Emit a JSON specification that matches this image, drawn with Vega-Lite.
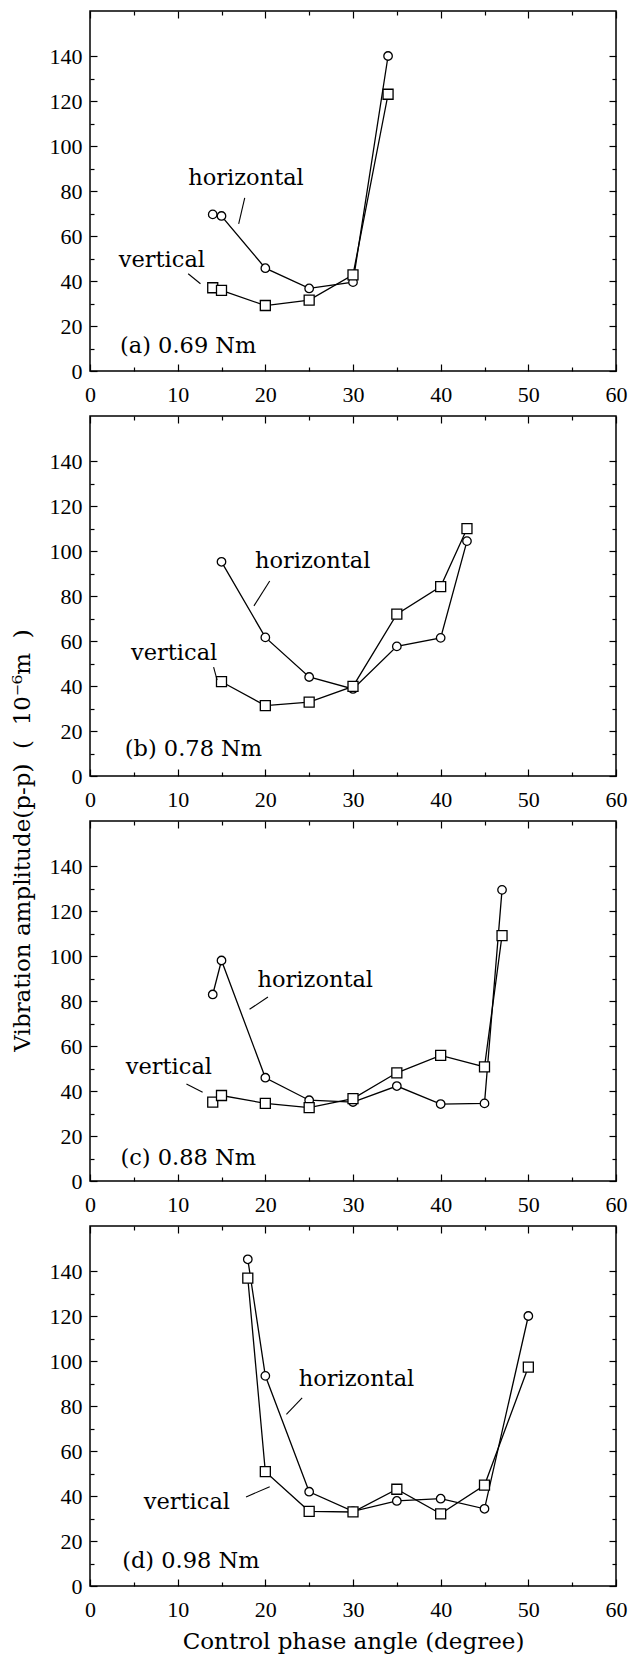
{
  "$schema": "https://vega.github.io/schema/vega-lite/v6.json",
  "padding": {"left": 10, "top": 9, "right": 5, "bottom": 5},
  "background": "white",
  "datasets": {
    "pts": [
      {"panel": "a", "series": "horizontal", "angle": 14, "amp": 69.6},
      {"panel": "a", "series": "horizontal", "angle": 15, "amp": 68.9},
      {"panel": "a", "series": "horizontal", "angle": 20, "amp": 45.7},
      {"panel": "a", "series": "horizontal", "angle": 25, "amp": 36.7},
      {"panel": "a", "series": "horizontal", "angle": 30, "amp": 39.5},
      {"panel": "a", "series": "horizontal", "angle": 34, "amp": 140},
      {"panel": "a", "series": "vertical", "angle": 14, "amp": 37},
      {"panel": "a", "series": "vertical", "angle": 15, "amp": 35.8},
      {"panel": "a", "series": "vertical", "angle": 20, "amp": 29.1},
      {"panel": "a", "series": "vertical", "angle": 25, "amp": 31.5},
      {"panel": "a", "series": "vertical", "angle": 30, "amp": 42.7},
      {"panel": "a", "series": "vertical", "angle": 34, "amp": 123},
      {"panel": "b", "series": "horizontal", "angle": 15, "amp": 95.2},
      {"panel": "b", "series": "horizontal", "angle": 20, "amp": 61.6},
      {"panel": "b", "series": "horizontal", "angle": 25, "amp": 44},
      {"panel": "b", "series": "horizontal", "angle": 30, "amp": 38.7},
      {"panel": "b", "series": "horizontal", "angle": 35, "amp": 57.6},
      {"panel": "b", "series": "horizontal", "angle": 40, "amp": 61.4},
      {"panel": "b", "series": "horizontal", "angle": 43, "amp": 104.4},
      {"panel": "b", "series": "vertical", "angle": 15, "amp": 41.9},
      {"panel": "b", "series": "vertical", "angle": 20, "amp": 31.3},
      {"panel": "b", "series": "vertical", "angle": 25, "amp": 32.8},
      {"panel": "b", "series": "vertical", "angle": 30, "amp": 39.8},
      {"panel": "b", "series": "vertical", "angle": 35, "amp": 71.9},
      {"panel": "b", "series": "vertical", "angle": 40, "amp": 84.2},
      {"panel": "b", "series": "vertical", "angle": 43, "amp": 109.9},
      {"panel": "c", "series": "horizontal", "angle": 14, "amp": 82.9},
      {"panel": "c", "series": "horizontal", "angle": 15, "amp": 98},
      {"panel": "c", "series": "horizontal", "angle": 20, "amp": 45.9},
      {"panel": "c", "series": "horizontal", "angle": 25, "amp": 35.9},
      {"panel": "c", "series": "horizontal", "angle": 30, "amp": 35.1},
      {"panel": "c", "series": "horizontal", "angle": 35, "amp": 42.2},
      {"panel": "c", "series": "horizontal", "angle": 40, "amp": 34.2},
      {"panel": "c", "series": "horizontal", "angle": 45, "amp": 34.5},
      {"panel": "c", "series": "horizontal", "angle": 47, "amp": 129.4},
      {"panel": "c", "series": "vertical", "angle": 14, "amp": 35.1},
      {"panel": "c", "series": "vertical", "angle": 15, "amp": 38},
      {"panel": "c", "series": "vertical", "angle": 20, "amp": 34.5},
      {"panel": "c", "series": "vertical", "angle": 25, "amp": 32.6},
      {"panel": "c", "series": "vertical", "angle": 30, "amp": 36.6},
      {"panel": "c", "series": "vertical", "angle": 35, "amp": 48.1},
      {"panel": "c", "series": "vertical", "angle": 40, "amp": 55.8},
      {"panel": "c", "series": "vertical", "angle": 45, "amp": 50.7},
      {"panel": "c", "series": "vertical", "angle": 47, "amp": 109.1},
      {"panel": "d", "series": "horizontal", "angle": 18, "amp": 145.2},
      {"panel": "d", "series": "horizontal", "angle": 20, "amp": 93.4},
      {"panel": "d", "series": "horizontal", "angle": 25, "amp": 41.9},
      {"panel": "d", "series": "horizontal", "angle": 30, "amp": 33.2},
      {"panel": "d", "series": "horizontal", "angle": 35, "amp": 37.8},
      {"panel": "d", "series": "horizontal", "angle": 40, "amp": 38.8},
      {"panel": "d", "series": "horizontal", "angle": 45, "amp": 34.3},
      {"panel": "d", "series": "horizontal", "angle": 50, "amp": 120},
      {"panel": "d", "series": "vertical", "angle": 18, "amp": 136.8},
      {"panel": "d", "series": "vertical", "angle": 20, "amp": 50.8},
      {"panel": "d", "series": "vertical", "angle": 25, "amp": 33.2},
      {"panel": "d", "series": "vertical", "angle": 30, "amp": 32.9},
      {"panel": "d", "series": "vertical", "angle": 35, "amp": 43},
      {"panel": "d", "series": "vertical", "angle": 40, "amp": 32.1},
      {"panel": "d", "series": "vertical", "angle": 45, "amp": 44.8},
      {"panel": "d", "series": "vertical", "angle": 50, "amp": 97.3}
    ],
    "labels": [
      {"panel": "a", "text": "horizontal", "x": 17.8, "y": 86},
      {"panel": "a", "text": "vertical", "x": 8.2, "y": 49.2},
      {"panel": "a", "text": "(a) 0.69 Nm", "x": 11.2, "y": 11.1},
      {"panel": "b", "text": "horizontal", "x": 25.4, "y": 95.7},
      {"panel": "b", "text": "vertical", "x": 9.6, "y": 54.7},
      {"panel": "b", "text": "(b) 0.78 Nm", "x": 11.8, "y": 12.2},
      {"panel": "c", "text": "horizontal", "x": 25.7, "y": 89.3},
      {"panel": "c", "text": "vertical", "x": 9.0, "y": 50.5},
      {"panel": "c", "text": "(c) 0.88 Nm", "x": 11.2, "y": 10.2},
      {"panel": "d", "text": "horizontal", "x": 30.4, "y": 92},
      {"panel": "d", "text": "vertical", "x": 11.05, "y": 37.4},
      {"panel": "d", "text": "(d) 0.98 Nm", "x": 11.5, "y": 11.2}
    ],
    "leaders": [
      {"panel": "a", "x": 17.65, "y": 76.9, "x2": 16.96, "y2": 65.4},
      {"panel": "a", "x": 11.2, "y": 43.2, "x2": 12.6, "y2": 38.8},
      {"panel": "b", "x": 20.5, "y": 86.7, "x2": 18.7, "y2": 75.6},
      {"panel": "b", "x": 14.1, "y": 48.4, "x2": 14.5, "y2": 42.6},
      {"panel": "c", "x": 20.3, "y": 81.8, "x2": 18.2, "y2": 76.3},
      {"panel": "c", "x": 11.0, "y": 43.1, "x2": 12.85, "y2": 39.4},
      {"panel": "d", "x": 24.2, "y": 83.6, "x2": 22.4, "y2": 76.3},
      {"panel": "d", "x": 17.8, "y": 39.6, "x2": 20.5, "y2": 44.1}
    ]
  },
  "vconcat": [
    {
      "width": 526, "height": 360,
      "layer": [
        {"data": {"name": "pts"}, "transform": [{"filter": "datum.panel === 'a'"}],
         "mark": {"type": "line", "color": "black", "strokeWidth": 1.3},
         "encoding": {
           "x": {"field": "angle", "type": "quantitative", "scale": {"domain": [0, 60]}, "axis": {"orient": "bottom", "values": [0,5,10,15,20,25,30,35,40,45,50,55,60], "labelExpr": "datum.value % 10 === 0 ? datum.label : ''", "tickSize": {"condition": {"test": "datum.value % 10 === 0", "value": -7}, "value": -4}, "labelPadding": 20, "title": null}},
           "y": {"field": "amp", "type": "quantitative", "scale": {"domain": [0, 150]}, "axis": {"orient": "left", "values": [0,10,20,30,40,50,60,70,80,90,100,110,120,130,140], "labelExpr": "datum.value % 20 === 0 ? datum.label : ''", "tickSize": {"condition": {"test": "datum.value % 20 === 0", "value": -7}, "value": -4}, "labelPadding": 15, "title": null}},
           "detail": {"field": "series"}
         }},
        {"data": {"name": "pts"}, "transform": [{"filter": "datum.panel === 'a'"}],
         "mark": {"type": "point", "filled": true, "fill": "white", "stroke": "black", "strokeWidth": 1.3, "opacity": 1},
         "encoding": {
           "x": {"field": "angle", "type": "quantitative", "axis": {"orient": "top", "values": [0,5,10,15,20,25,30,35,40,45,50,55,60], "labels": false, "tickSize": {"condition": {"test": "datum.value % 10 === 0", "value": -7}, "value": -4}, "title": null}},
           "y": {"field": "amp", "type": "quantitative", "axis": {"orient": "right", "values": [0,10,20,30,40,50,60,70,80,90,100,110,120,130,140], "labels": false, "tickSize": {"condition": {"test": "datum.value % 20 === 0", "value": -7}, "value": -4}, "title": null}},
           "shape": {"field": "series", "scale": {"domain": ["horizontal", "vertical"], "range": ["circle", "square"]}, "legend": null},
           "size": {"field": "series", "scale": {"domain": ["horizontal", "vertical"], "range": [72, 100]}, "legend": null}
         }},
        {"data": {"name": "labels"}, "transform": [{"filter": "datum.panel === 'a'"}],
         "mark": {"type": "text", "font": "DejaVu Serif", "fontSize": 22.5, "color": "black", "align": "center", "baseline": "middle"},
         "encoding": {"x": {"field": "x", "type": "quantitative", "axis": null}, "y": {"field": "y", "type": "quantitative", "axis": null}, "text": {"field": "text"}}},
        {"data": {"name": "leaders"}, "transform": [{"filter": "datum.panel === 'a'"}],
         "mark": {"type": "rule", "color": "black", "strokeWidth": 1.1},
         "encoding": {"x": {"field": "x", "type": "quantitative", "axis": null}, "y": {"field": "y", "type": "quantitative", "axis": null}, "x2": {"field": "x2"}, "y2": {"field": "y2"}}}
      ],
      "resolve": {"axis": {"x": "independent", "y": "independent"}}
    },
    {
      "width": 526, "height": 360,
      "layer": [
        {"data": {"name": "pts"}, "transform": [{"filter": "datum.panel === 'b'"}],
         "mark": {"type": "line", "color": "black", "strokeWidth": 1.3},
         "encoding": {
           "x": {"field": "angle", "type": "quantitative", "scale": {"domain": [0, 60]}, "axis": {"orient": "bottom", "values": [0,5,10,15,20,25,30,35,40,45,50,55,60], "labelExpr": "datum.value % 10 === 0 ? datum.label : ''", "tickSize": {"condition": {"test": "datum.value % 10 === 0", "value": -7}, "value": -4}, "labelPadding": 20, "title": null}},
           "y": {"field": "amp", "type": "quantitative", "scale": {"domain": [0, 150]}, "axis": {"orient": "left", "values": [0,10,20,30,40,50,60,70,80,90,100,110,120,130,140], "labelExpr": "datum.value % 20 === 0 ? datum.label : ''", "tickSize": {"condition": {"test": "datum.value % 20 === 0", "value": -7}, "value": -4}, "labelPadding": 15, "title": "Vibration amplitude(p-p)\u00a0\u00a0(\u00a0\u00a010⁻⁶m\u00a0\u00a0)", "titleFontSize": 23, "titleX": -68, "titleY": 424, "titleAlign": "center", "titleBaseline": "middle", "titleAngle": 270}},
           "detail": {"field": "series"}
         }},
        {"data": {"name": "pts"}, "transform": [{"filter": "datum.panel === 'b'"}],
         "mark": {"type": "point", "filled": true, "fill": "white", "stroke": "black", "strokeWidth": 1.3, "opacity": 1},
         "encoding": {
           "x": {"field": "angle", "type": "quantitative", "axis": {"orient": "top", "values": [0,5,10,15,20,25,30,35,40,45,50,55,60], "labels": false, "tickSize": {"condition": {"test": "datum.value % 10 === 0", "value": -7}, "value": -4}, "title": null}},
           "y": {"field": "amp", "type": "quantitative", "axis": {"orient": "right", "values": [0,10,20,30,40,50,60,70,80,90,100,110,120,130,140], "labels": false, "tickSize": {"condition": {"test": "datum.value % 20 === 0", "value": -7}, "value": -4}, "title": null}},
           "shape": {"field": "series", "scale": {"domain": ["horizontal", "vertical"], "range": ["circle", "square"]}, "legend": null},
           "size": {"field": "series", "scale": {"domain": ["horizontal", "vertical"], "range": [72, 100]}, "legend": null}
         }},
        {"data": {"name": "labels"}, "transform": [{"filter": "datum.panel === 'b'"}],
         "mark": {"type": "text", "font": "DejaVu Serif", "fontSize": 22.5, "color": "black", "align": "center", "baseline": "middle"},
         "encoding": {"x": {"field": "x", "type": "quantitative", "axis": null}, "y": {"field": "y", "type": "quantitative", "axis": null}, "text": {"field": "text"}}},
        {"data": {"name": "leaders"}, "transform": [{"filter": "datum.panel === 'b'"}],
         "mark": {"type": "rule", "color": "black", "strokeWidth": 1.1},
         "encoding": {"x": {"field": "x", "type": "quantitative", "axis": null}, "y": {"field": "y", "type": "quantitative", "axis": null}, "x2": {"field": "x2"}, "y2": {"field": "y2"}}}
      ],
      "resolve": {"axis": {"x": "independent", "y": "independent"}}
    },
    {
      "width": 526, "height": 360,
      "layer": [
        {"data": {"name": "pts"}, "transform": [{"filter": "datum.panel === 'c'"}],
         "mark": {"type": "line", "color": "black", "strokeWidth": 1.3},
         "encoding": {
           "x": {"field": "angle", "type": "quantitative", "scale": {"domain": [0, 60]}, "axis": {"orient": "bottom", "values": [0,5,10,15,20,25,30,35,40,45,50,55,60], "labelExpr": "datum.value % 10 === 0 ? datum.label : ''", "tickSize": {"condition": {"test": "datum.value % 10 === 0", "value": -7}, "value": -4}, "labelPadding": 20, "title": null}},
           "y": {"field": "amp", "type": "quantitative", "scale": {"domain": [0, 150]}, "axis": {"orient": "left", "values": [0,10,20,30,40,50,60,70,80,90,100,110,120,130,140], "labelExpr": "datum.value % 20 === 0 ? datum.label : ''", "tickSize": {"condition": {"test": "datum.value % 20 === 0", "value": -7}, "value": -4}, "labelPadding": 15, "title": null}},
           "detail": {"field": "series"}
         }},
        {"data": {"name": "pts"}, "transform": [{"filter": "datum.panel === 'c'"}],
         "mark": {"type": "point", "filled": true, "fill": "white", "stroke": "black", "strokeWidth": 1.3, "opacity": 1},
         "encoding": {
           "x": {"field": "angle", "type": "quantitative", "axis": {"orient": "top", "values": [0,5,10,15,20,25,30,35,40,45,50,55,60], "labels": false, "tickSize": {"condition": {"test": "datum.value % 10 === 0", "value": -7}, "value": -4}, "title": null}},
           "y": {"field": "amp", "type": "quantitative", "axis": {"orient": "right", "values": [0,10,20,30,40,50,60,70,80,90,100,110,120,130,140], "labels": false, "tickSize": {"condition": {"test": "datum.value % 20 === 0", "value": -7}, "value": -4}, "title": null}},
           "shape": {"field": "series", "scale": {"domain": ["horizontal", "vertical"], "range": ["circle", "square"]}, "legend": null},
           "size": {"field": "series", "scale": {"domain": ["horizontal", "vertical"], "range": [72, 100]}, "legend": null}
         }},
        {"data": {"name": "labels"}, "transform": [{"filter": "datum.panel === 'c'"}],
         "mark": {"type": "text", "font": "DejaVu Serif", "fontSize": 22.5, "color": "black", "align": "center", "baseline": "middle"},
         "encoding": {"x": {"field": "x", "type": "quantitative", "axis": null}, "y": {"field": "y", "type": "quantitative", "axis": null}, "text": {"field": "text"}}},
        {"data": {"name": "leaders"}, "transform": [{"filter": "datum.panel === 'c'"}],
         "mark": {"type": "rule", "color": "black", "strokeWidth": 1.1},
         "encoding": {"x": {"field": "x", "type": "quantitative", "axis": null}, "y": {"field": "y", "type": "quantitative", "axis": null}, "x2": {"field": "x2"}, "y2": {"field": "y2"}}}
      ],
      "resolve": {"axis": {"x": "independent", "y": "independent"}}
    },
    {
      "width": 526, "height": 360,
      "layer": [
        {"data": {"name": "pts"}, "transform": [{"filter": "datum.panel === 'd'"}],
         "mark": {"type": "line", "color": "black", "strokeWidth": 1.3},
         "encoding": {
           "x": {"field": "angle", "type": "quantitative", "scale": {"domain": [0, 60]}, "axis": {"orient": "bottom", "values": [0,5,10,15,20,25,30,35,40,45,50,55,60], "labelExpr": "datum.value % 10 === 0 ? datum.label : ''", "tickSize": {"condition": {"test": "datum.value % 10 === 0", "value": -7}, "value": -4}, "labelPadding": 20, "title": "Control phase angle (degree)", "titleFontSize": 23, "titlePadding": 7}},
           "y": {"field": "amp", "type": "quantitative", "scale": {"domain": [0, 150]}, "axis": {"orient": "left", "values": [0,10,20,30,40,50,60,70,80,90,100,110,120,130,140], "labelExpr": "datum.value % 20 === 0 ? datum.label : ''", "tickSize": {"condition": {"test": "datum.value % 20 === 0", "value": -7}, "value": -4}, "labelPadding": 15, "title": null}},
           "detail": {"field": "series"}
         }},
        {"data": {"name": "pts"}, "transform": [{"filter": "datum.panel === 'd'"}],
         "mark": {"type": "point", "filled": true, "fill": "white", "stroke": "black", "strokeWidth": 1.3, "opacity": 1},
         "encoding": {
           "x": {"field": "angle", "type": "quantitative", "axis": {"orient": "top", "values": [0,5,10,15,20,25,30,35,40,45,50,55,60], "labels": false, "tickSize": {"condition": {"test": "datum.value % 10 === 0", "value": -7}, "value": -4}, "title": null}},
           "y": {"field": "amp", "type": "quantitative", "axis": {"orient": "right", "values": [0,10,20,30,40,50,60,70,80,90,100,110,120,130,140], "labels": false, "tickSize": {"condition": {"test": "datum.value % 20 === 0", "value": -7}, "value": -4}, "title": null}},
           "shape": {"field": "series", "scale": {"domain": ["horizontal", "vertical"], "range": ["circle", "square"]}, "legend": null},
           "size": {"field": "series", "scale": {"domain": ["horizontal", "vertical"], "range": [72, 100]}, "legend": null}
         }},
        {"data": {"name": "labels"}, "transform": [{"filter": "datum.panel === 'd'"}],
         "mark": {"type": "text", "font": "DejaVu Serif", "fontSize": 22.5, "color": "black", "align": "center", "baseline": "middle"},
         "encoding": {"x": {"field": "x", "type": "quantitative", "axis": null}, "y": {"field": "y", "type": "quantitative", "axis": null}, "text": {"field": "text"}}},
        {"data": {"name": "leaders"}, "transform": [{"filter": "datum.panel === 'd'"}],
         "mark": {"type": "rule", "color": "black", "strokeWidth": 1.1},
         "encoding": {"x": {"field": "x", "type": "quantitative", "axis": null}, "y": {"field": "y", "type": "quantitative", "axis": null}, "x2": {"field": "x2"}, "y2": {"field": "y2"}}}
      ],
      "resolve": {"axis": {"x": "independent", "y": "independent"}}
    }
  ],
  "spacing": 45,
  "bounds": "flush",
  "config": {
    "view": {"stroke": "black", "strokeWidth": 1.5},
    "axis": {"domain": false, "grid": false, "tickColor": "black", "tickWidth": 1.2, "labelFont": "Liberation Serif", "labelFontSize": 22, "labelColor": "black", "labelFlush": false, "labelOverlap": false, "titleFont": "DejaVu Serif", "titleFontSize": 22, "titleFontWeight": "normal", "titleColor": "black"}
  }
}
